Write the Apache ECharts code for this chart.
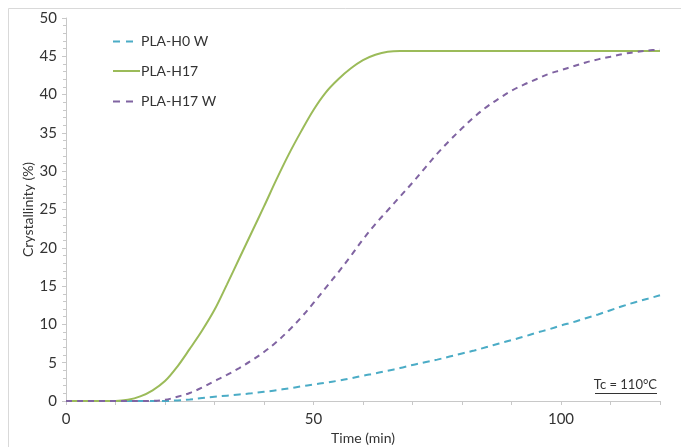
<!DOCTYPE html>
<html>
<head>
<meta charset="utf-8">
<script src="https://cdn.jsdelivr.net/npm/echarts@6/dist/echarts.min.js"></script>
<style>html,body{margin:0;padding:0;background:#fff;}#c{width:681px;height:447px;}</style>
</head>
<body>
<div id="c"></div>
<script>
var time = [0,2.5,5,7.5,10,12.5,15,17.5,20,22.5,25,27.5,30,32.5,35,37.5,40,42.5,45,47.5,50,52.5,55,57.5,60,62.5,65,67.5,70,72.5,75,77.5,80,82.5,85,87.5,90,92.5,95,97.5,100,102.5,105,107.5,110,112.5,115,117.5,120];
var plaH0W = [0,0,0,0,0,0,0,0,0,0.08,0.2,0.38,0.55,0.7,0.85,1.0,1.2,1.4,1.65,1.9,2.15,2.4,2.65,2.95,3.3,3.6,3.95,4.3,4.7,5.05,5.4,5.8,6.2,6.6,7.05,7.5,7.95,8.4,8.9,9.35,9.85,10.3,10.8,11.3,11.85,12.4,12.9,13.35,13.8];
var plaH17 = [0,0,0,0,0,0.15,0.6,1.4,2.6,4.5,6.8,9.2,11.9,15.2,18.6,22.0,25.4,28.9,32.2,35.2,38.0,40.3,42.0,43.4,44.5,45.2,45.6,45.7,45.7,45.7,45.7,45.7,45.7,45.7,45.7,45.7,45.7,45.7,45.7,45.7,45.7,45.7,45.7,45.7,45.7,45.7,45.7,45.7,45.7];
var plaH17W = [0,0,0,0,0,0,0,0.02,0.15,0.55,1.05,1.75,2.6,3.4,4.3,5.3,6.4,7.7,9.2,10.9,12.8,14.8,16.8,18.9,21.1,23.1,24.9,26.7,28.5,30.4,32.3,34.0,35.6,37.1,38.4,39.5,40.5,41.3,42.0,42.7,43.2,43.7,44.2,44.6,44.95,45.3,45.55,45.75,45.9];
var seriesNames = ['PLA-H0 W','PLA-H17','PLA-H17 W'];
var xLabels = [0,50,100];

function pairs(ys){ return time.map(function(t,i){ return [t, ys[i]]; }); }

var FONT = 'Lato';
var colors = ['#4BACC6','#9BBB59','#8064A2'];
var dashes = [[7,5],'solid',[6,5]];

// manual legend (line samples + real text)
var legendGraphics = [];
var legendY = [41.5, 71, 101.5];
seriesNames.forEach(function(n,i){
  var dash = dashes[i];
  legendGraphics.push({type:'line', silent:true,
    shape:{x1:113,y1:legendY[i],x2:(dash==='solid'?140:134),y2:legendY[i]},
    style:{stroke:colors[i],lineWidth:2,lineDash:(dash==='solid'?null:[7,6])}});
  legendGraphics.push({type:'text', silent:true, x:141, y:legendY[i],
    style:{text:n,font:'14px Lato',fill:'#333',textVerticalAlign:'middle',verticalAlign:'middle'}});
});

var chart = echarts.init(document.getElementById('c'), null, {renderer:'canvas'});
chart.setOption({
  animation:false,
  backgroundColor:'#fff',
  textStyle:{fontFamily:FONT},
  grid:{left:66,right:21,top:18,bottom:46,containLabel:false,outerBoundsMode:'none'},
  xAxis:{
    type:'value', min:0, max:120, interval:10,
    name:'Time (min)', nameLocation:'middle', nameGap:29,
    nameTextStyle:{fontFamily:FONT,fontSize:14,color:'#333'},
    axisLine:{show:true,lineStyle:{color:'#c8c8c8',width:1}},
    axisTick:{show:true,length:4,lineStyle:{color:'#c8c8c8'}},
    axisLabel:{margin:11,fontSize:15,color:'#333',fontFamily:FONT,
      formatter:function(v){ return xLabels.indexOf(v) >= 0 ? String(v) : ''; }},
    splitLine:{show:false}
  },
  yAxis:{
    type:'value', min:0, max:50, interval:5,
    name:'Crystallinity (%)', nameLocation:'middle', nameGap:31, nameMoveOverlap:false,
    nameTextStyle:{fontFamily:FONT,fontSize:14,color:'#333'},
    axisLine:{show:true,lineStyle:{color:'#c8c8c8',width:1}},
    axisTick:{show:true,length:4,lineStyle:{color:'#c8c8c8'}},
    minorTick:{show:true,splitNumber:5,length:3,lineStyle:{color:'#c8c8c8'}},
    axisLabel:{margin:9,fontSize:15,color:'#333',fontFamily:FONT},
    splitLine:{show:false}
  },
  series:[
    {name:seriesNames[0],type:'line',data:pairs(plaH0W),showSymbol:false,symbol:'none',smooth:0.35,
     lineStyle:{color:colors[0],width:2,type:dashes[0]},itemStyle:{color:colors[0]}},
    {name:seriesNames[1],type:'line',data:pairs(plaH17),showSymbol:false,symbol:'none',smooth:0.35,
     lineStyle:{color:colors[1],width:2,type:dashes[1]},itemStyle:{color:colors[1]}},
    {name:seriesNames[2],type:'line',data:pairs(plaH17W),showSymbol:false,symbol:'none',smooth:0.35,
     lineStyle:{color:colors[2],width:2,type:dashes[2]},itemStyle:{color:colors[2]}}
  ],
  graphic:[
    {type:'rect',silent:true,z:-1,shape:{x:8.5,y:8.5,width:720,height:480},style:{fill:null,stroke:'#d9d9d9',lineWidth:1}},
    {type:'text',silent:true,x:657,y:385,style:{text:'Tc = 110°C',font:'13px Lato',fill:'#333',align:'right',textAlign:'right',verticalAlign:'middle',textVerticalAlign:'middle'}},
    {type:'rect',silent:true,shape:{x:595,y:393,width:62,height:1},style:{fill:'#333'}}
  ].concat(legendGraphics)
});
</script>
</body>
</html>
